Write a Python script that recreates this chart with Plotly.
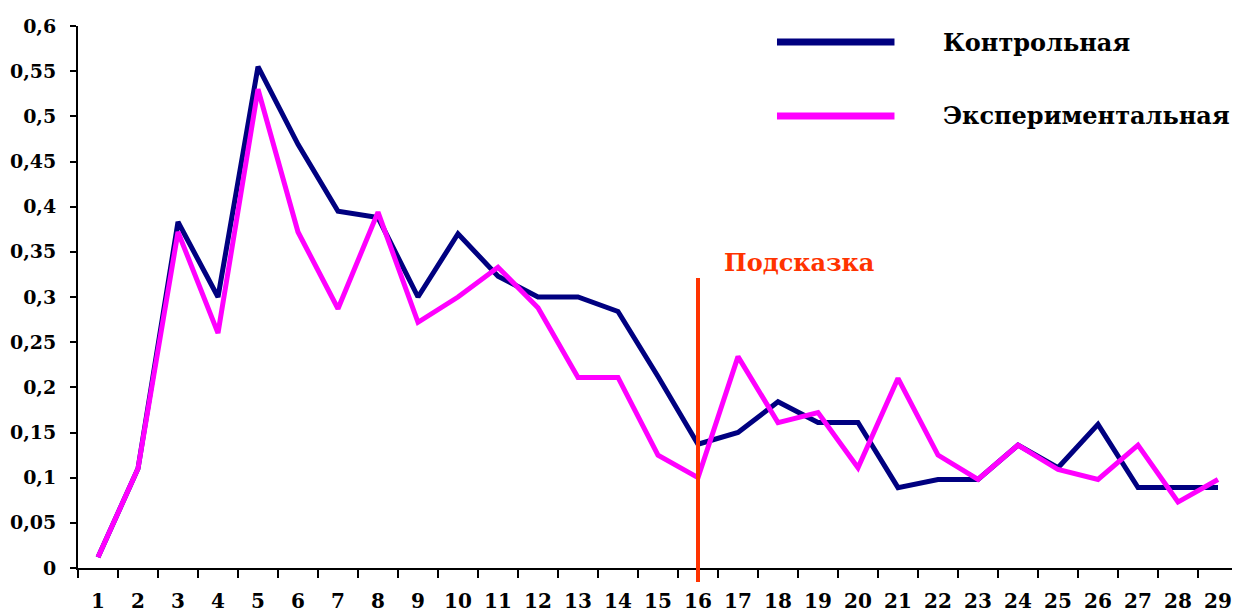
import plotly.graph_objects as go

categories = [str(i) for i in range(1, 30)]
control = [0.012, 0.11, 0.383, 0.30, 0.555, 0.469, 0.395, 0.388, 0.30, 0.37,
           0.323, 0.30, 0.30, 0.284, 0.212, 0.137, 0.15, 0.184, 0.161, 0.161,
           0.089, 0.098, 0.098, 0.136, 0.111, 0.159, 0.089, 0.089, 0.089]
experimental = [0.012, 0.11, 0.372, 0.26, 0.53, 0.372, 0.287, 0.394, 0.272, 0.30,
                0.333, 0.288, 0.211, 0.211, 0.125, 0.10, 0.234, 0.161, 0.172, 0.111,
                0.21, 0.125, 0.098, 0.136, 0.109, 0.098, 0.136, 0.073, 0.098]
series_names = ["Контрольная", "Экспериментальная"]
y_ticks = [0, 0.05, 0.1, 0.15, 0.2, 0.25, 0.3, 0.35, 0.4, 0.45, 0.5, 0.55, 0.6]
y_tick_labels = ["0", "0,05", "0,1", "0,15", "0,2", "0,25", "0,3", "0,35", "0,4",
                 "0,45", "0,5", "0,55", "0,6"]
hint_category = "16"
hint_label = "Подсказка"

NAVY = "#000080"
MAGENTA = "#FF00FF"
RED = "#FF3300"
FONT = "DejaVu Serif"

fig = go.Figure()
fig.add_trace(go.Scatter(x=categories, y=control, mode="lines", name=series_names[0],
                         line=dict(color=NAVY, width=5), showlegend=False))
fig.add_trace(go.Scatter(x=categories, y=experimental, mode="lines", name=series_names[1],
                         line=dict(color=MAGENTA, width=5), showlegend=False))

OFF = 8  # page offset of the figure in the browser
W, H = 1232, 608
ml, mr, mt, mb = 65, 2, 18, 48
pw = W - ml - mr
ph = H - mt - mb

def px(xp):
    return (xp - OFF - ml) / pw

def py(yp):
    return (H - mb - (yp - OFF)) / ph

# hint line
hint_idx = categories.index(hint_category)
fig.add_shape(type="line", xref="x", yref="paper", x0=hint_idx, x1=hint_idx,
              y0=py(582), y1=py(278), line=dict(color=RED, width=4), layer="above")
fig.add_annotation(xref="paper", yref="paper", x=px(720), y=py(263), text="<b>%s</b>" % hint_label,
                   showarrow=False, xanchor="left", yanchor="middle",
                   font=dict(family=FONT, size=24, color=RED))

# manual legend
for i, (name, col) in enumerate(zip(series_names, [NAVY, MAGENTA])):
    yy = [42, 116][i]
    fig.add_shape(type="line", xref="paper", yref="paper", x0=px(775), x1=px(893),
                  y0=py(yy), y1=py(yy), line=dict(color=col, width=7))
    fig.add_annotation(xref="paper", yref="paper", x=px(940), y=py(yy), text="<b>%s</b>" % name,
                       showarrow=False, xanchor="left", yanchor="middle",
                       font=dict(family=FONT, size=24, color="black"))

xt = ["<b>%s</b>" % c for c in categories]
fig.update_layout(
    width=W, height=H,
    margin=dict(l=ml, r=mr, t=mt, b=mb),
    paper_bgcolor="white", plot_bgcolor="white",
    showlegend=False,
    xaxis=dict(type="category", showgrid=False, zeroline=False, showline=True,
               linecolor="black", linewidth=2, ticks="outside", tickson="boundaries",
               ticklen=8, tickwidth=2, tickcolor="black", range=[-0.5, 28.5],
               tickvals=categories, ticktext=xt,
               tickfont=dict(family=FONT, size=20, color="black"),
               ticklabelstandoff=14),
    yaxis=dict(range=[0, 0.6], tickvals=y_ticks, ticktext=["<b>%s</b>" % t for t in y_tick_labels],
               showgrid=False, zeroline=False, showline=True, linecolor="black",
               linewidth=2, ticks="outside", ticklen=6, tickwidth=2, tickcolor="black",
               tickfont=dict(family=FONT, size=19, color="black"),
               ticklabelstandoff=10),
)

fig.write_html("out.html")
